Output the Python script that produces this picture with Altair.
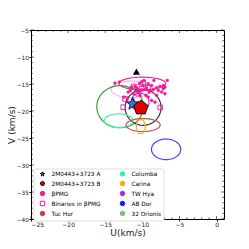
import math
import numpy as np
import pandas as pd
import altair as alt

# ---- data ----
dots_u = [-13.69,-13.1,-12.48,-12.03,-11.45,-11.0,-10.77,-10.41,-10.1,-9.78,-9.43,-9.2,-8.98,-8.75,-8.53,-8.44,-8.08,-7.85,-7.63,-7.41,-7.18,-6.96,-6.64,-6.96,-8.08,-9.2,-8.75,-10.32,-11.22,-8.3,-11.22,-11.9,-9.87,-10.55,-9.52,-9.07,-7.18,-10.1,-10.6,-9.6,-11.6]
dots_v = [-14.83,-14.65,-17.43,-17.8,-15.58,-15.45,-15.7,-14.96,-16.07,-14.34,-15.7,-14.96,-16.19,-15.27,-16.07,-14.34,-15.7,-16.19,-15.45,-16.5,-15.88,-15.58,-14.34,-16.81,-17.12,-17.43,-18.05,-17.12,-16.81,-18.36,-18.05,-16.5,-15.27,-16.5,-17.12,-16.5,-15.27,-14.65,-16.0,-16.0,-16.2]
bin_u = [-12.57,-12.34,-11.13,-9.87,-7.59,-10.55,-9.2,-10.1]
bin_v = [-19.29,-17.74,-15.45,-14.83,-19.35,-16.81,-15.7,-15.88]
star_a = (-11.3, -18.7)
pent_b = (-10.2, -19.4)
tri = (-10.8, -12.7)

ell_cx = [-10.0, -11.5, -13.0, -9.9, -10.3, -13.2, -9.9, -10.2, -6.8]
ell_cy = [-14.9, -16.0, -19.2, -19.35, -18.4, -21.8, -22.6, -22.9, -27.1]
ell_a = [3.14, 2.7, 3.14, 2.42, 1.2, 1.95, 2.3, 0.6, 1.97]
ell_b = [1.17, 1.55, 3.9, 3.3, 1.7, 1.25, 1.2, 1.3, 1.9]
ell_col = ["#f0209a", "#f7b8d8", "#3f9b3f", "#333333", "#a04ce0", "#48f0a8", "#b5584f", "#ffa826", "#4747ff"]

legend_names = ["2M0443+3723 A", "2M0443+3723 B", "βPMG", "Binaries in βPMG", "Tuc Hor",
                "Columba", "Carina", "TW Hya", "AB Dor", "32 Orionis"]
legend_fill = ["#2f7fe0", "#e00000", "#f0189b", "transparent", "#b04a3a",
               "#2ef3a0", "#ffa500", "#9932e0", "#1a1aff", "#77c077"]
legend_stroke = ["#000000", "#000000", "#f0189b", "#f0189b", "#b04a3a",
                 "#2ef3a0", "#ffa500", "#9932e0", "#1a1aff", "#77c077"]

def star_path(n=5, r_in=0.42):
    pts = []
    for i in range(2 * n):
        r = 1.0 if i % 2 == 0 else r_in
        ang = -math.pi / 2 + i * math.pi / n
        pts.append((r * math.cos(ang), r * math.sin(ang)))
    return "M" + "L".join(f"{x:.3f},{y:.3f}" for x, y in pts) + "Z"

def poly_path(n=5):
    pts = []
    for i in range(n):
        ang = -math.pi / 2 + i * 2 * math.pi / n
        pts.append((math.cos(ang), math.sin(ang)))
    return "M" + "L".join(f"{x:.3f},{y:.3f}" for x, y in pts) + "Z"

STAR = star_path()
PENT = poly_path()
legend_shapes = [STAR, PENT, "circle", "square", "circle", "circle", "circle", "circle", "circle", "circle"]

W, H = 193, 189
xs = alt.Scale(domain=[-25, 1], nice=False)
ys = alt.Scale(domain=[-40, -5], nice=False)
fill_s = alt.Scale(domain=legend_names, range=legend_fill)
stroke_s = alt.Scale(domain=legend_names, range=legend_stroke)
shape_s = alt.Scale(domain=legend_names, range=legend_shapes)

xaxis = alt.Axis(values=list(range(-25, 1, 5)), ticks=True, tickSize=2, tickColor="black",
                 domain=False, grid=False,
                 labelFontSize=6, labelPadding=0.5, title="U(km/s)", titleFontSize=9,
                 titleFontWeight="normal", titlePadding=1, labelColor="#222", titleColor="#222")
yaxis = alt.Axis(values=list(range(-40, -4, 5)), ticks=True, tickSize=2, tickColor="black",
                 domain=False, grid=False,
                 labelFontSize=5.8, labelPadding=0.5, title="V (km/s)", titleFontSize=9,
                 titleFontWeight="normal", titlePadding=0, labelColor="#222", titleColor="#222")

legend = alt.Legend(title=None, orient="none", legendX=2.5, legendY=138.5, columns=2,
                    labelFontSize=5.8, symbolSize=20, symbolStrokeWidth=1, rowPadding=0,
                    columnPadding=14, padding=2, fillColor="white", strokeColor="#dddddd",
                    cornerRadius=2, labelLimit=200, labelOffset=6, symbolOffset=4)

layers = []
# ellipses
for i in range(len(ell_cx)):
    t = np.linspace(0, 2 * np.pi, 73)
    df = pd.DataFrame({"u": ell_cx[i] + ell_a[i] * np.cos(t),
                       "v": ell_cy[i] + ell_b[i] * np.sin(t),
                       "o": np.arange(len(t))})
    layers.append(alt.Chart(df).mark_line(strokeWidth=1.2).encode(
        x=alt.X("u:Q", scale=xs, axis=xaxis), y=alt.Y("v:Q", scale=ys, axis=yaxis),
        order="o:Q", stroke=alt.value(ell_col[i])))

def pts(df, size, sw):
    return alt.Chart(df).mark_point(filled=True, opacity=1, strokeWidth=sw, size=size).encode(
        x=alt.X("u:Q", scale=xs, axis=xaxis), y=alt.Y("v:Q", scale=ys, axis=yaxis),
        fill=alt.Fill("cat:N", scale=fill_s, legend=legend),
        stroke=alt.Stroke("cat:N", scale=stroke_s, legend=legend),
        shape=alt.Shape("cat:N", scale=shape_s, legend=legend))

layers.append(pts(pd.DataFrame({"u": dots_u, "v": dots_v, "cat": "βPMG"}), 8, 0.5))
layers.append(pts(pd.DataFrame({"u": bin_u, "v": bin_v, "cat": "Binaries in βPMG"}), 22, 0.9))
layers.append(pts(pd.DataFrame({"u": [star_a[0]], "v": [star_a[1]], "cat": ["2M0443+3723 A"]}), 170, 0.8))
layers.append(pts(pd.DataFrame({"u": [pent_b[0]], "v": [pent_b[1]], "cat": ["2M0443+3723 B"]}), 230, 0.8))
layers.append(alt.Chart(pd.DataFrame({"u": [tri[0]], "v": [tri[1]]})).mark_point(
    filled=True, shape="triangle-up", size=50, color="black", opacity=1).encode(
    x=alt.X("u:Q", scale=xs, axis=xaxis), y=alt.Y("v:Q", scale=ys, axis=yaxis)))

# inward ticks on all sides
xt = pd.DataFrame({"t": list(range(-25, 2))})
yt = pd.DataFrame({"t": list(range(-40, -4))})
xmaj = xt[xt["t"] % 5 == 0]
xmin = xt[xt["t"] % 5 != 0]
ymaj = yt[yt["t"] % 5 == 0]
ymin = yt[yt["t"] % 5 != 0]
for d, L in [(xmaj, 3), (xmin, 1.8)]:
    layers.append(alt.Chart(d).mark_rule(color="black", strokeWidth=0.6).encode(
        x=alt.X("t:Q", scale=xs, axis=xaxis), y=alt.value(H), y2=alt.value(H - L)))
    layers.append(alt.Chart(d).mark_rule(color="black", strokeWidth=0.6).encode(
        x=alt.X("t:Q", scale=xs, axis=xaxis), y=alt.value(0), y2=alt.value(L)))
for d, L in [(ymaj, 3), (ymin, 1.8)]:
    layers.append(alt.Chart(d).mark_rule(color="black", strokeWidth=0.6).encode(
        y=alt.Y("t:Q", scale=ys, axis=yaxis), x=alt.value(0), x2=alt.value(L)))
    layers.append(alt.Chart(d).mark_rule(color="black", strokeWidth=0.6).encode(
        y=alt.Y("t:Q", scale=ys, axis=yaxis), x=alt.value(W), x2=alt.value(W - L)))

chart = alt.layer(*layers).properties(
    width=W, height=H,
    autosize=alt.AutoSizeParams(type="none"),
    padding={"left": 23, "top": 22, "right": 17, "bottom": 22},
).configure(font="DejaVu Sans", background="white").configure_view(
    stroke="black", strokeWidth=1)

chart.save("out.html", embed_options={"renderer": "svg", "actions": False})
